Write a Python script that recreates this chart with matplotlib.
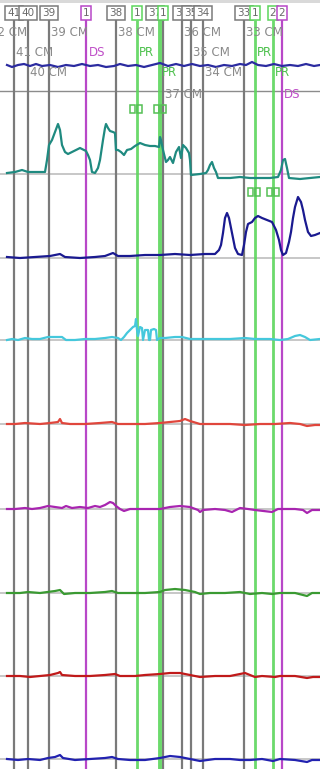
import matplotlib
matplotlib.use("Agg")
import matplotlib.pyplot as plt
from matplotlib.patches import Rectangle

# event marker times
gray_events = [14, 28, 49, 116, 163, 182, 191, 203, 244]
magenta_events = [86, 282]
green_events = [137, 160, 255, 273]
green_widths = [2.0, 2.8, 2.0, 2.0]

# boxed event numbers along the top (time, text, kind)
box_times = [14, 28, 49, 86, 116, 137, 155, 163, 182, 191, 203, 244, 255, 273, 282]
box_texts = ['41', '40', '39', '1', '38', '1', '37', '1', '36', '35', '34', '33', '1', '2', '2']
box_kinds = ['g', 'g', 'g', 'm', 'g', 'p', 'g', 'p', 'g', 'g', 'g', 'g', 'p', 'p', 'm']

# position labels (time, row, text, kind)
lab_times = [-10, 51, 118, 184, 246, 16, 89, 139, 193, 257, 30, 162, 205, 275, 165, 284]
lab_rows = [1, 1, 1, 1, 1, 2, 2, 2, 2, 2, 3, 3, 3, 3, 4, 4]
lab_texts = ['42 CM', '39 CM', '38 CM', '36 CM', '33 CM',
             '41 CM', 'DS', 'PR', '35 CM', 'PR',
             '40 CM', 'PR', '34 CM', 'PR',
             '37 CM', 'DS']
lab_kinds = ['g', 'g', 'g', 'g', 'g', 'g', 'm', 'p', 'g', 'p', 'g', 'p', 'g', 'p', 'g', 'm']

# swallow marker pairs (time, channel row)
sq_times = [136, 160, 254, 273]
sq_rows = [109, 109, 192, 192]

# channel offsets and colours
ch_offset = [66, 174, 258, 340, 424, 509, 593, 676, 759]
ch_color = ['#2b2ba0', '#1f8a80', '#1a1a90', '#45c8dc', '#e0463c',
            '#a825b0', '#3a9a32', '#c01a1a', '#2222b0']

# traces (time, amplitude)
top_x = [7, 12, 18, 24, 30, 36, 42, 50, 58, 66, 74, 82, 90, 98, 106, 114, 120, 128, 136, 144, 152,
         160, 168, 176, 184, 192, 200, 208, 216, 224, 232, 240, 246, 252, 258, 266, 274, 282, 290,
         298, 306, 314, 320]
top_y = [1, -1, 1, 2, 0, 2, 0, 1, -1, 1, 0, 2, 0, 1, -1, 0, 2, 0, 1, -1, 1,
         3, 0, 2, 0, 2, 0, 1, -1, 1, 0, 2, 1, 4, 1, 0, 2, 0, 1,
         0, 2, 0, 1]

teal_x = [7, 15, 22, 28, 40, 45, 47, 49, 52, 55, 58, 60, 62, 65, 68, 72, 76, 80, 84, 86,
          88, 90, 92, 95, 98, 100, 103, 105, 106, 108, 110, 113, 115, 116, 118, 121, 124, 127, 131, 135,
          140, 145, 150, 155, 159, 160, 161, 163, 166, 168, 170, 173, 176, 179, 181, 183, 186, 189, 190, 191,
          200, 206, 208, 210, 212, 214, 216, 218, 230, 240, 250, 260, 270, 278, 281, 283, 285, 287, 289, 300,
          310, 320]
teal_y = [1, 2, 4, 2, 2, 2, 14, 29, 34, 42, 50, 44, 29, 22, 20, 22, 24, 26, 24, 23,
          19, 14, 2, 1, 6, 14, 34, 46, 50, 46, 43, 42, 41, 24, 24, 22, 19, 24, 25, 28,
          31, 29, 28, 28, 27, 37, 34, 24, 12, 14, 17, 11, 22, 27, 16, 29, 26, 21, 14, -1,
          0, 1, 4, 9, 12, 6, 2, -4, -4, -3, -4, -4, -4, -3, 4, 14, 15, 6, -4, -5,
          -4, -3]

dblue_x = [7, 20, 35, 50, 60, 65, 80, 95, 105, 113, 118, 130, 145, 160, 175, 190, 205, 215, 219, 221,
           223, 225, 227, 229, 231, 233, 235, 238, 242, 244, 246, 248, 252, 255, 258, 262, 267, 272, 276, 279,
           281, 283, 286, 289, 291, 293, 295, 298, 301, 303, 305, 308, 311, 315, 320]
dblue_y = [1, 0, 1, 2, 4, 1, 0, 1, 2, 5, 2, 2, 3, 3, 4, 3, 4, 4, 8, 13,
           25, 40, 45, 40, 30, 20, 10, 4, 3, 13, 26, 34, 36, 40, 42, 40, 38, 36, 28, 18,
           8, 3, 5, 16, 26, 40, 51, 61, 56, 48, 38, 26, 22, 23, 25]

cyan_x = [7, 12, 18, 25, 32, 40, 48, 55, 62, 66, 75, 85, 95, 105, 112, 118, 121, 124, 127, 130,
          133, 135, 136, 137, 138, 140, 142, 143, 145, 148, 149, 150, 151, 154, 156, 157, 160, 165, 175, 182,
          190, 200, 215, 230, 245, 255, 270, 280, 288, 295, 300, 305, 310, 320]
cyan_y = [0, 1, 0, 2, 1, 1, 3, 3, 3, 0, 0, 1, 1, 2, 3, 2, 0, 3, 7, 10,
          13, 14, 21, 10, 4, 13, 12, 0, 10, 10, 0, 0, 10, 11, 10, 0, 2, 2, 3, 3,
          1, 1, 1, 1, 2, 1, 1, 0, 1, 4, 5, 3, 0, 1]

red_x = [7, 15, 25, 40, 50, 58, 60, 62, 70, 85, 100, 112, 118, 130, 145, 160, 170, 180, 185, 190,
         200, 215, 230, 245, 260, 275, 290, 300, 307, 315, 320]
red_y = [0, 0, 1, 0, 1, 2, 5, 1, 0, 0, 1, 2, 0, 0, 0, 1, 2, 3, 5, 3,
         0, 0, 0, -1, 0, 0, 1, 0, -2, -1, -1]

mag_x = [7, 15, 25, 32, 40, 48, 55, 62, 66, 72, 80, 88, 95, 100, 105, 110, 113, 116, 120, 124,
         130, 145, 160, 170, 180, 190, 198, 200, 203, 215, 225, 232, 240, 248, 255, 272, 278, 295, 303, 307,
         312, 320]
mag_y = [0, 0, 1, 0, 1, 3, 2, 1, 3, 1, 2, 1, 3, 2, 4, 7, 6, 3, 0, -2,
         0, 0, 0, 2, 3, 2, -1, -3, -1, 0, -1, -3, 1, 0, -1, -3, 0, 0, -1, -4,
         -1, -1]

green_x = [7, 20, 28, 40, 55, 60, 64, 75, 90, 105, 112, 118, 130, 145, 160, 165, 175, 185, 195, 200,
           210, 225, 240, 250, 262, 272, 280, 295, 307, 312, 320]
green_y = [0, 0, 1, 0, 2, 3, -1, 0, 0, 1, 2, 0, 0, 0, 1, 3, 4, 3, 1, -1,
           0, 0, 1, -1, 0, -1, 0, 0, -3, 0, 0]

dred_x = [7, 20, 30, 40, 50, 58, 60, 62, 75, 90, 105, 115, 120, 135, 145, 160, 170, 180, 190, 200,
          215, 230, 240, 245, 250, 255, 262, 275, 280, 295, 307, 313, 320]
dred_y = [0, 0, -1, 0, 1, 3, 4, 1, 0, 0, 1, 2, 0, 0, 1, 2, 3, 3, 1, -1,
          0, 0, 2, 3, 1, -1, 0, -1, 0, 0, -2, -1, -1]

blue_x = [7, 18, 28, 40, 48, 55, 60, 63, 75, 90, 105, 112, 118, 130, 145, 160, 170, 180, 190, 200,
          215, 230, 240, 250, 262, 273, 280, 295, 307, 312, 320]
blue_y = [0, -1, 0, -1, 1, 2, 4, 1, -1, 0, 1, 2, 0, -1, -1, 1, 3, 2, 0, -2,
          0, 0, -1, -1, 0, -2, 0, -1, -3, -1, -1]

traces_x = [top_x, teal_x, dblue_x, cyan_x, red_x, mag_x, green_x, dred_x, blue_x]
traces_y = [top_y, teal_y, dblue_y, cyan_y, red_y, mag_y, green_y, dred_y, blue_y]

kind_color = {'g': '#7a7a7a', 'm': '#b848c8', 'p': '#5cd65c'}
text_color = {'g': '#8a8a8a', 'm': '#c050c8', 'p': '#4cc04c'}
row_y = [13, 33, 52, 72, 95]

fig = plt.figure(figsize=(3.2, 7.69), dpi=100)
ax = fig.add_axes([0, 0, 1, 1])
ax.set_xlim(0, 320)
ax.set_ylim(769, 0)
ax.axis('off')

# top strip and separator line
ax.axhspan(0, 3, color='#d9d9d9', lw=0)
ax.axhline(91, color='#8c8c8c', lw=1.0)

# channel baselines
for off in ch_offset[1:]:
    ax.axhline(off, color='#bdbdbd', lw=1.2, zorder=1)

# event lines
ax.vlines(gray_events, 20, 769, color=kind_color['g'], lw=1.6, zorder=2)
ax.vlines(magenta_events, 20, 769, color=kind_color['m'], lw=1.6, zorder=2)
for t, w in zip(green_events, green_widths):
    ax.vlines(t, 20, 769, color=kind_color['p'], lw=w, alpha=0.9, zorder=2)

# traces
for xs, ys, off, c in zip(traces_x, traces_y, ch_offset, ch_color):
    ax.plot(xs, [off - v for v in ys], color=c, lw=1.6, zorder=4)

# swallow markers
for t, r in zip(sq_times, sq_rows):
    ax.add_patch(Rectangle((t - 6, r - 4), 5, 8, fill=False, ec='#55c055', lw=1.1, zorder=5))
    ax.add_patch(Rectangle((t + 1, r - 4), 5, 8, fill=False, ec='#55c055', lw=1.1, zorder=5))

# boxed numbers
for t, s, k in zip(box_times, box_texts, box_kinds):
    ax.text(t, row_y[0], s, ha='center', va='center', fontsize=7.5, color='#6a6a6a',
            bbox=dict(boxstyle='square,pad=0.2', fc='white', ec=kind_color[k], lw=1.1), zorder=6)

# position labels
for t, r, s, k in zip(lab_times, lab_rows, lab_texts, lab_kinds):
    ax.text(t, row_y[r], s, ha='left', va='center', fontsize=8.5, color=text_color[k], zorder=6)

fig.savefig('out.png', dpi=100)
